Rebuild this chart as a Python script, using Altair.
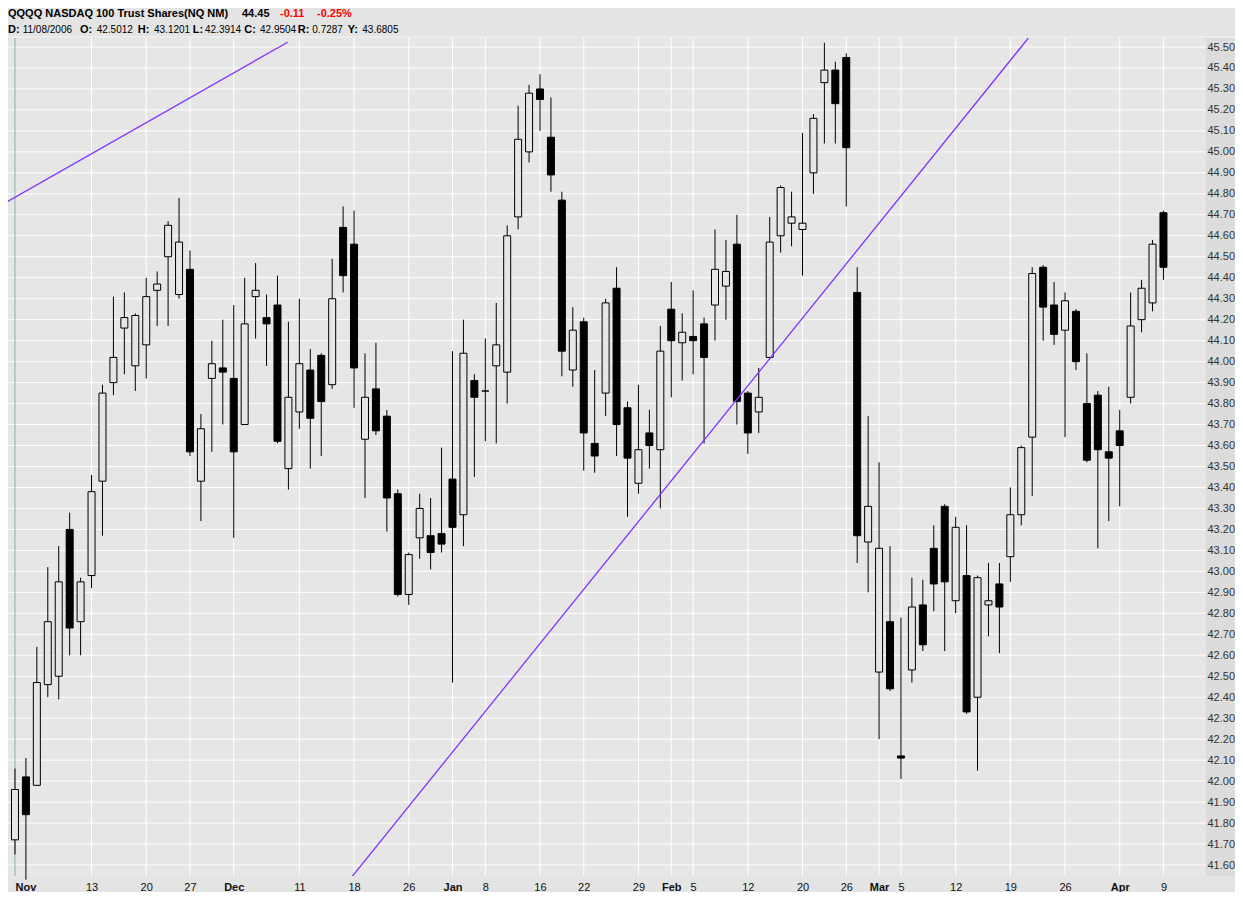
import json
import altair as alt
import pandas as pd

# ---------------- data ----------------
day_index = list(range(106))  # trading days 2 Nov 2006 .. 9 Apr 2007
opens = [41.72, 42.02, 41.98, 42.46, 42.50, 43.20, 42.76, 42.98, 43.43, 43.90,
         44.16, 43.98, 44.08, 44.34, 44.50, 44.32, 44.44, 43.43, 43.92, 43.97,
         43.92, 43.70, 44.31, 44.21, 44.27, 43.49, 43.76, 43.96, 44.03, 43.89,
         44.64, 44.56, 43.63, 43.87, 43.74, 43.37, 42.89, 43.16, 43.17, 43.18,
         43.44, 43.27, 43.91, 43.86, 43.98, 43.95, 44.69, 45.00, 45.30, 45.07,
         44.77, 43.96, 44.19, 43.61, 43.85, 44.35, 43.78, 43.42, 43.66, 43.58,
         44.25, 44.09, 44.12, 44.18, 44.27, 44.36, 44.56, 43.85, 43.76, 44.02,
         44.60, 44.66, 44.63, 44.90, 45.33, 45.39, 45.45, 44.33, 43.14, 42.52,
         42.76, 42.12, 42.53, 42.84, 43.11, 43.31, 42.86, 42.98, 42.40, 42.84,
         42.94, 43.07, 43.27, 43.64, 44.45, 44.27, 44.15, 44.24, 43.80, 43.84,
         43.57, 43.67, 43.83, 44.20, 44.28, 44.71]
highs = [42.06, 42.11, 42.64, 43.02, 43.12, 43.28, 42.97, 43.46, 43.89, 44.31,
         44.33, 44.23, 44.40, 44.43, 44.67, 44.78, 44.53, 43.75, 44.10, 44.20,
         44.27, 44.40, 44.47, 44.32, 44.41, 44.19, 44.30, 44.06, 44.04, 44.49,
         44.74, 44.72, 44.04, 44.09, 43.77, 43.39, 43.09, 43.37, 43.35, 43.59,
         44.05, 44.20, 43.94, 44.11, 44.28, 44.65, 45.22, 45.32, 45.37, 45.26,
         44.81, 44.26, 44.21, 43.96, 44.30, 44.45, 43.81, 43.89, 43.77, 44.17,
         44.38, 44.23, 44.34, 44.21, 44.63, 44.58, 44.70, 43.86, 43.97, 44.69,
         44.84, 44.81, 45.09, 45.18, 45.52, 45.43, 45.47, 44.45, 43.74, 43.52,
         43.12, 42.78, 42.97, 42.96, 43.22, 43.32, 43.26, 43.22, 42.98, 43.04,
         43.04, 43.40, 43.60, 44.45, 44.46, 44.38, 44.33, 44.25, 44.04, 43.86,
         43.88, 43.77, 44.33, 44.39, 44.58, 44.72]
lows = [41.65, 41.53, 41.98, 42.40, 42.39, 42.60, 42.60, 42.92, 43.17, 43.84,
        43.94, 43.86, 43.92, 44.17, 44.17, 44.30, 43.55, 43.24, 43.57, 43.70,
        43.16, 43.70, 44.11, 43.98, 43.61, 43.39, 43.68, 43.49, 43.55, 43.87,
        44.33, 43.78, 43.35, 43.65, 43.19, 42.88, 42.84, 43.06, 43.01, 43.09,
        42.47, 43.12, 43.45, 43.62, 43.61, 43.80, 44.63, 44.95, 45.10, 44.81,
        43.93, 43.88, 43.48, 43.47, 43.74, 43.55, 43.26, 43.37, 43.49, 43.30,
        43.83, 43.91, 43.94, 43.61, 44.10, 44.20, 43.70, 43.56, 43.66, 44.01,
        44.52, 44.55, 44.41, 44.80, 45.04, 45.04, 44.74, 43.04, 42.90, 42.20,
        42.43, 42.01, 42.47, 42.62, 42.81, 42.62, 42.80, 42.32, 42.05, 42.69,
        42.61, 42.95, 43.22, 43.36, 44.10, 44.08, 43.64, 43.96, 43.52, 43.11,
        43.24, 43.31, 43.80, 44.14, 44.24, 44.39]
closes = [41.96, 41.84, 42.47, 42.76, 42.95, 42.73, 42.95, 43.38, 43.85, 44.02,
          44.21, 44.22, 44.31, 44.37, 44.65, 44.57, 43.57, 43.68, 43.99, 43.95,
          43.57, 44.18, 44.34, 44.18, 43.62, 43.83, 43.99, 43.73, 43.81, 44.30,
          44.41, 43.97, 43.83, 43.67, 43.35, 42.89, 43.08, 43.30, 43.09, 43.13,
          43.21, 44.04, 43.83, 43.86, 44.08, 44.60, 45.06, 45.28, 45.25, 44.89,
          44.05, 44.15, 43.66, 43.55, 44.28, 43.70, 43.54, 43.58, 43.60, 44.05,
          44.10, 44.14, 44.10, 44.02, 44.44, 44.43, 43.81, 43.66, 43.83, 44.57,
          44.83, 44.69, 44.66, 45.16, 45.39, 45.23, 45.02, 43.17, 43.31, 43.11,
          42.44, 42.11, 42.83, 42.65, 42.94, 42.95, 43.21, 42.33, 42.97, 42.86,
          42.83, 43.27, 43.59, 44.42, 44.26, 44.13, 44.29, 44.00, 43.53, 43.58,
          43.54, 43.60, 44.17, 44.35, 44.56, 44.45]

# x-axis tick labels (trading-day index -> text)
label_idx = [0, 7, 12, 16, 20, 26, 31, 36, 40, 43, 48, 52, 57, 60, 62, 67,
             72, 76, 79, 81, 86, 91, 96, 101, 105]
label_txt = ["Nov", "13", "20", "27", "Dec", "11", "18", "26", "Jan", "8",
             "16", "22", "29", "Feb", "5", "12", "20", "26", "Mar", "5",
             "12", "19", "26", "Apr", "9"]
month_idx = [0, 20, 40, 60, 79, 101]

# y-axis tick values
y_ticks = [41.6, 41.7, 41.8, 41.9, 42.0, 42.1, 42.2, 42.3, 42.4, 42.5,
           42.6, 42.7, 42.8, 42.9, 43.0, 43.1, 43.2, 43.3, 43.4, 43.5,
           43.6, 43.7, 43.8, 43.9, 44.0, 44.1, 44.2, 44.3, 44.4, 44.5,
           44.6, 44.7, 44.8, 44.9, 45.0, 45.1, 45.2, 45.3, 45.4, 45.5]

# two drawn trend lines (endpoints in day-index / price)
trend_id = ["a", "a", "b", "b"]
trend_i = [-0.725, 24.93, 30.19, 92.65]
trend_p = [44.762, 45.523, 41.504, 45.543]

# header texts
title_txt = ["QQQQ NASDAQ 100 Trust Shares(NQ NM)", "44.45", "-0.11", "-0.25%"]
title_col = ["#000000", "#000000", "#ff0000", "#ff0000"]
info_keys = ["D:", "O:", "H:", "L:", "C:", "R:", "Y:"]
info_vals = ["11/08/2006", "42.5012", "43.1201", "42.3914", "42.9504", "0.7287", "43.6805"]

# ---------------- layout ----------------
W, H = 1197, 838
RIGHT = 30
X_DOM = [-0.18, 108.34]
Y_DOM = [41.5476, 45.543]
FONT = "Liberation Sans"
title_x = [0, 234, 272, 309]
info_key_x = [0, 72, 129.7, 184.7, 236.3, 289.7, 339.7]
info_val_x = [14.7, 88.7, 146, 197, 252, 304.3, 354.3]

df = pd.DataFrame({"i": day_index, "o": opens, "h": highs, "l": lows, "c": closes})
df["top"] = df[["o", "c"]].max(axis=1)
df["bot"] = df[["o", "c"]].min(axis=1)
df["dir"] = ["down" if c < o else "up" for o, c in zip(opens, closes)]

xs = alt.Scale(domain=X_DOM, nice=False, zero=False)
ys = alt.Scale(domain=Y_DOM, nice=False, zero=False)

bold_test = "indexof(%s, datum.value) >= 0" % json.dumps(month_idx)
label_expr = "%s[indexof(%s, datum.value)]" % (json.dumps(label_txt), json.dumps(label_idx))

XAX = alt.Axis(
    values=label_idx, labelExpr=label_expr, grid=False, ticks=False, domain=False,
    labelFont=FONT, labelFontSize=11, labelColor="#111111", labelPadding=5,
    labelFlush=False, labelOverlap=False, title=None,
    labelFontWeight={"condition": {"test": bold_test, "value": "bold"}, "value": "normal"},
    labelAlign={"condition": {"test": "datum.value == 0", "value": "left"}, "value": "center"},
)
YAX = alt.Axis(
    orient="right", values=y_ticks, format=".2f", grid=False, ticks=False, domain=False,
    labelFont=FONT, labelFontSize=11, labelColor="#333333", labelPadding=2,
    labelAlign="left", labelBaseline="middle", labelFlush=False, title=None, zindex=1,
)

one = pd.DataFrame({"k": [0]})

# background band for price labels
band = alt.Chart(one).mark_rect(color="#dcdcdc").encode(
    x=alt.value(W + 1), x2=alt.value(W + RIGHT), y=alt.value(0), y2=alt.value(H)
)

# separator under header
sep = alt.Chart(one).mark_rule(color="#f4f4f4", strokeWidth=1).encode(
    x=alt.value(0), x2=alt.value(W + RIGHT), y=alt.value(-1)
)

# horizontal grid
hgrid = alt.Chart(pd.DataFrame({"p": y_ticks})).mark_rule(color="#ffffff", strokeWidth=1).encode(
    y=alt.Y("p:Q", scale=ys, axis=YAX, title=None), x=alt.value(0), x2=alt.value(W + 1)
)

# vertical grid (first one is tinted)
vg = pd.DataFrame({"i": label_idx})
vgrid = alt.Chart(vg).transform_filter("datum.i > 0").mark_rule(color="#ffffff", strokeWidth=1).encode(
    x=alt.X("i:Q", scale=xs, axis=XAX, title=None),
)
vgrid0 = alt.Chart(vg).transform_filter("datum.i == 0").mark_rule(color="#8fb3ab", strokeWidth=1).encode(
    x=alt.X("i:Q", scale=xs, axis=XAX, title=None),
)

wicks = alt.Chart(df).mark_rule(color="#000000", strokeWidth=1).encode(
    x=alt.X("i:Q", scale=xs, axis=XAX, title=None),
    y=alt.Y("l:Q", scale=ys, axis=YAX, title=None),
    y2="h:Q",
)

bodies = alt.Chart(df).mark_bar(size=7, stroke="#000000", strokeWidth=1).encode(
    x=alt.X("i:Q", scale=xs, axis=XAX, title=None),
    y=alt.Y("top:Q", scale=ys, axis=YAX, title=None),
    y2="bot:Q",
    fill=alt.Fill("dir:N", scale=alt.Scale(domain=["down", "up"], range=["#000000", "#e6e6e6"]), legend=None),
)

trend = alt.Chart(pd.DataFrame({"id": trend_id, "i": trend_i, "p": trend_p})).mark_line(
    color="#7f33ff", strokeWidth=1.3, clip=True
).encode(
    x=alt.X("i:Q", scale=xs, axis=XAX, title=None),
    y=alt.Y("p:Q", scale=ys, axis=YAX, title=None),
    detail="id:N",
)

tdf = pd.DataFrame({"t": title_txt, "c": title_col, "px": title_x})
title_layer = alt.Chart(tdf).mark_text(
    align="left", baseline="alphabetic", font=FONT, fontSize=11, fontWeight="bold"
).encode(
    x=alt.X("px:Q", scale=None), y=alt.value(-21.5), text="t:N",
    color=alt.Color("c:N", scale=None),
)

kdf = pd.DataFrame({"t": info_keys, "px": info_key_x})
key_layer = alt.Chart(kdf).mark_text(
    align="left", baseline="alphabetic", font=FONT, fontSize=11, fontWeight="bold", color="#000000"
).encode(x=alt.X("px:Q", scale=None), y=alt.value(-5.3), text="t:N")

vdf = pd.DataFrame({"t": info_vals, "px": info_val_x})
val_layer = alt.Chart(vdf).mark_text(
    align="left", baseline="alphabetic", font=FONT, fontSize=10, color="#000000"
).encode(x=alt.X("px:Q", scale=None), y=alt.value(-5.3), text="t:N")

chart = alt.layer(
    band, sep, hgrid, vgrid, vgrid0, wicks, bodies, trend, title_layer, key_layer, val_layer
).properties(
    width=W, height=H, autosize="none",
    padding={"left": 0, "top": 30, "right": RIGHT, "bottom": 16},
    background="#e4e4e4",
).configure_view(fill="#e6e6e6", stroke="transparent")

chart.save("out.html", embed_options={"renderer": "svg", "actions": False})
